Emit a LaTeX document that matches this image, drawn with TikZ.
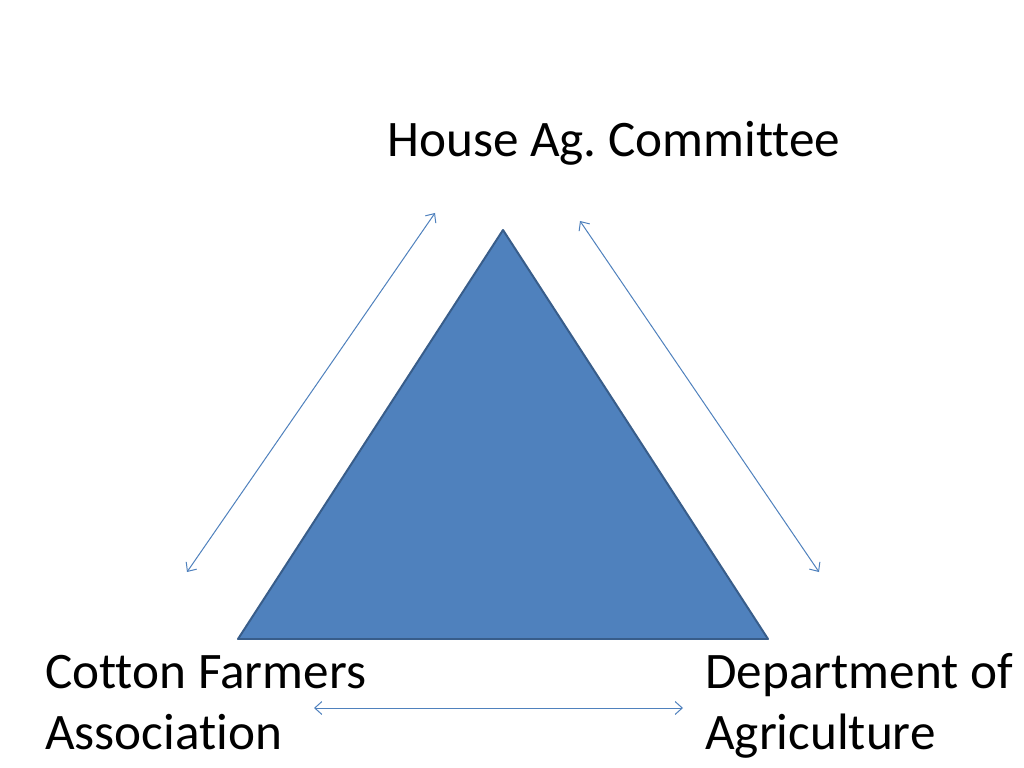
\documentclass[tikz,border=0pt]{standalone}
\usepackage{fontspec}
\setmainfont[Ligatures={NoCommon}]{Carlito}
\usetikzlibrary{arrows.meta}
\definecolor{accent}{HTML}{4F81BD}
\definecolor{accentdark}{HTML}{385D8A}
\frenchspacing
\tikzset{
  lbl/.style={anchor=base west, inner sep=0pt, font=\fontsize{36}{43}\selectfont, text=black},
  link/.style={draw=accent, line width=0.7pt, {Straight Barb[length=5pt,width=9pt]}-{Straight Barb[length=5pt,width=9pt]}}
}
\begin{document}
\begin{tikzpicture}[x=0.703125pt, y=-0.703125pt]
\useasboundingbox (0,0) rectangle (1024,768);
\fill[white] (0,0) rectangle (1024,768);
\coordinate (apex) at (503,230);
\coordinate (bl) at (238,639);
\coordinate (br) at (768,639);
\filldraw[fill=accent, draw=accentdark, line width=1.4pt, line join=round] (apex) -- (bl) -- (br) -- cycle;
\node[lbl] (house) at (387,157) {House Ag.\ Committee};
\node[lbl] (cotton1) at (45,688) {Cotton Farmers};
\node[lbl] (cotton2) at (45,749) {Association};
\node[lbl] (dept1) at (705,688) {Department of};
\node[lbl] (dept2) at (705,749) {Agriculture};
\coordinate (l1) at (187,572);
\coordinate (l2) at (435,213);
\coordinate (r1) at (580,221);
\coordinate (r2) at (819,572);
\coordinate (b1) at (314,708);
\coordinate (b2) at (683,708);
\draw[link] (l1) -- (l2);
\draw[link] (r1) -- (r2);
\draw[link] (b1) -- (b2);
\end{tikzpicture}
\end{document}
